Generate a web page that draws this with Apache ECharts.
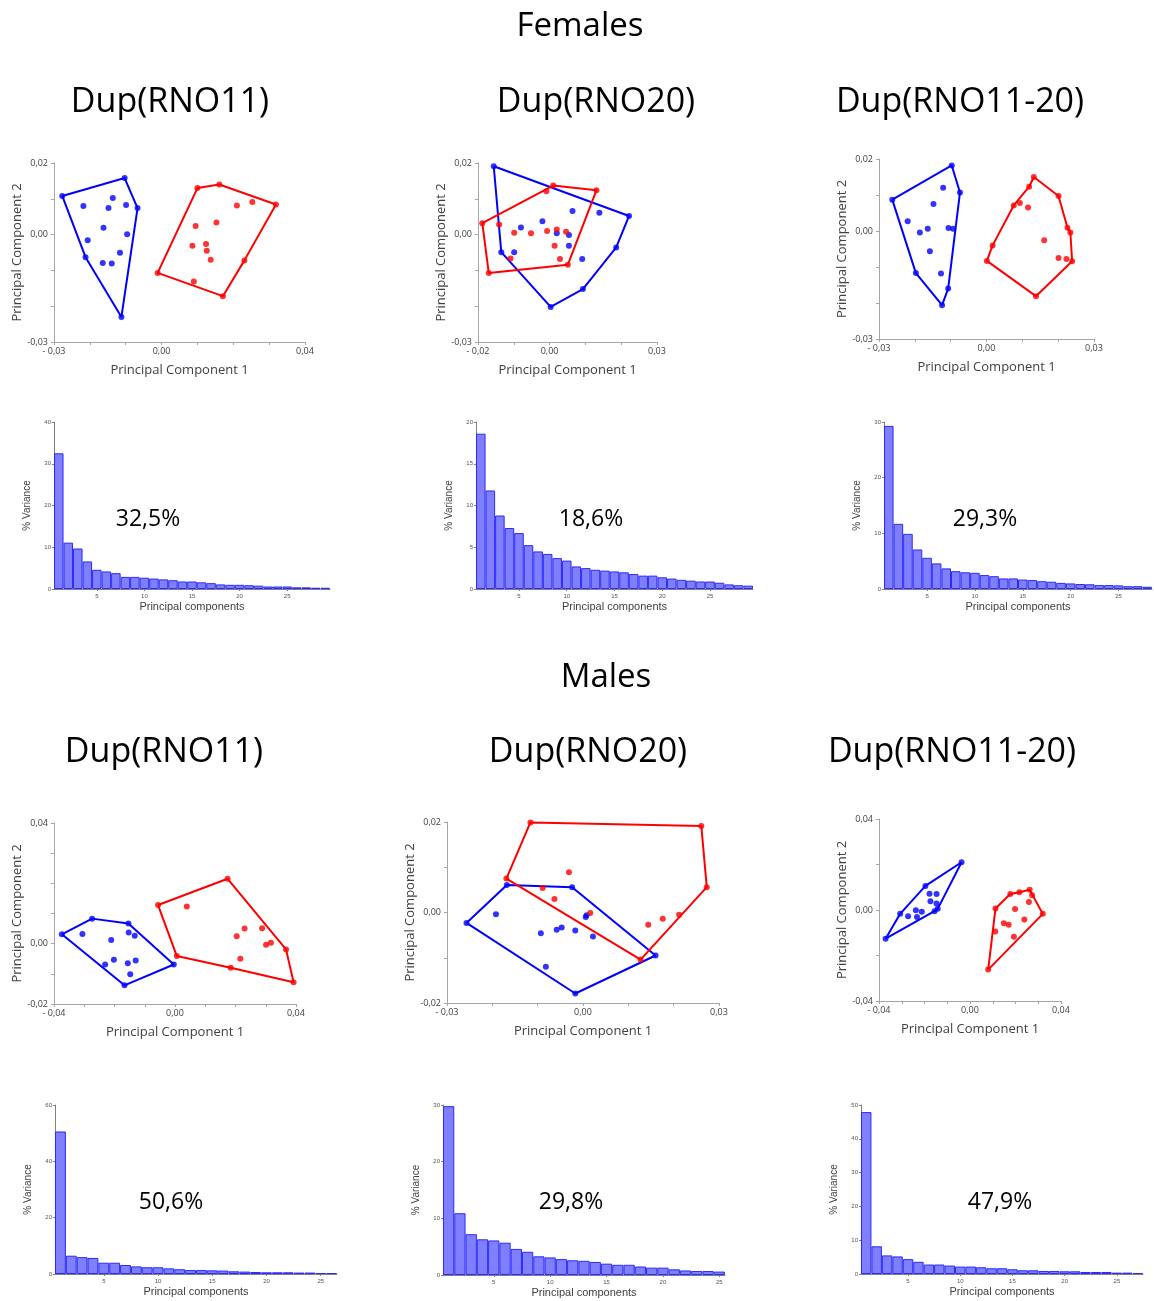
<!DOCTYPE html>
<html>
<head>
<meta charset="utf-8">
<title>PCA Dup(RNO11) / Dup(RNO20) / Dup(RNO11-20)</title>
<script src="https://cdn.jsdelivr.net/npm/echarts@6/dist/echarts.min.js"></script>
<style>
  html, body { margin: 0; padding: 0; background: #fff; }
  #chart { width: 1154px; height: 1301px; }
</style>
</head>
<body>
<div id="chart"></div>
<script>
// ---- PCA scores (PC1, PC2), hull vertices in drawing order + inner points ----
// Females, Dup(RNO11)
const f11BlueHull = [[-0.0277, 0.0108], [-0.0103, 0.0158], [-0.0067, 0.0074], [-0.0112, -0.0230], [-0.0212, -0.0063]];
const f11BlueIn = [[-0.0218, 0.0080], [-0.0136, 0.0102], [-0.0148, 0.0074], [-0.0099, 0.0083], [-0.0162, 0.0019], [-0.0206, -0.0016], [-0.0096, 0.0001], [-0.0116, -0.0051], [-0.0164, -0.0079], [-0.0139, -0.0081]];
const f11RedHull = [[0.0100, 0.0130], [0.0161, 0.0140], [0.0319, 0.0084], [0.0231, -0.0072], [0.0171, -0.0172], [-0.0011, -0.0107]];
const f11RedIn = [[0.0210, 0.0081], [0.0253, 0.0091], [0.0153, 0.0034], [0.0095, 0.0024], [0.0086, -0.0031], [0.0124, -0.0026], [0.0126, -0.0045], [0.0137, -0.0070], [0.0090, -0.0131]];
// Females, Dup(RNO20)
const f20BlueHull = [[-0.0156, 0.0191], [0.0222, 0.0052], [0.0186, -0.0036], [0.0093, -0.0152], [0.0003, -0.0202], [-0.0135, -0.0049]];
const f20BlueIn = [[0.0064, 0.0066], [0.0139, 0.0061], [-0.0020, 0.0037], [-0.0080, 0.0020], [0.0020, 0.0004], [0.0054, -0.0001], [0.0054, -0.0031], [0.0091, -0.0068], [-0.0099, -0.0049]];
const f20RedHull = [[-0.0188, 0.0032], [0.0010, 0.0137], [0.0131, 0.0124], [0.0051, -0.0084], [-0.0170, -0.0107]];
const f20RedIn = [[-0.0009, 0.0121], [-0.0141, 0.0028], [-0.0099, 0.0005], [-0.0052, 0.0004], [-0.0007, 0.0010], [0.0020, 0.0014], [0.0046, 0.0008], [0.0014, -0.0031], [-0.0109, -0.0067], [0.0029, -0.0068]];
// Females, Dup(RNO11-20)
const f1120BlueHull = [[-0.0263, 0.0087], [-0.0097, 0.0182], [-0.0074, 0.0107], [-0.0107, -0.0160], [-0.0124, -0.0206], [-0.0197, -0.0117]];
const f1120BlueIn = [[-0.0121, 0.0120], [-0.0148, 0.0075], [-0.0220, 0.0027], [-0.0186, -0.0004], [-0.0164, 0.0006], [-0.0106, 0.0008], [-0.0093, 0.0006], [-0.0158, -0.0056], [-0.0127, -0.0118]];
const f1120RedHull = [[0.0132, 0.0150], [0.0201, 0.0097], [0.0226, 0.0009], [0.0234, -0.0004], [0.0239, -0.0084], [0.0138, -0.0181], [0.0001, -0.0083], [0.0017, -0.0040], [0.0076, 0.0071], [0.0119, 0.0123]];
const f1120RedIn = [[0.0093, 0.0078], [0.0116, 0.0065], [0.0161, -0.0026], [0.0201, -0.0075], [0.0223, -0.0078]];
// Males, Dup(RNO11)
const m11BlueHull = [[-0.0374, 0.0031], [-0.0274, 0.0083], [-0.0154, 0.0067], [-0.0004, -0.0069], [-0.0167, -0.0138]];
const m11BlueIn = [[-0.0306, 0.0032], [-0.0211, 0.0012], [-0.0153, 0.0037], [-0.0133, 0.0026], [-0.0202, -0.0053], [-0.0231, -0.0069], [-0.0156, -0.0065], [-0.0130, -0.0056], [-0.0148, -0.0101]];
const m11RedHull = [[-0.0056, 0.0128], [0.0174, 0.0215], [0.0367, -0.0019], [0.0392, -0.0128], [0.0184, -0.0080], [0.0006, -0.0041]];
const m11RedIn = [[0.0039, 0.0123], [0.0204, 0.0025], [0.0230, 0.0050], [0.0288, 0.0051], [0.0301, -0.0004], [0.0317, 0.0003], [0.0216, -0.0050]];
// Males, Dup(RNO20)
const m20BlueHull = [[-0.0257, -0.0023], [-0.0168, 0.0061], [-0.0024, 0.0056], [0.0160, -0.0095], [-0.0017, -0.0179]];
const m20BlueIn = [[-0.0192, -0.0004], [-0.0093, -0.0046], [-0.0058, -0.0038], [-0.0047, -0.0033], [-0.0017, -0.0040], [0.0006, -0.0010], [0.0008, -0.0006], [0.0022, -0.0053], [-0.0082, -0.0120]];
const m20RedHull = [[-0.0169, 0.0075], [-0.0116, 0.0199], [0.0261, 0.0191], [0.0273, 0.0056], [0.0127, -0.0104]];
const m20RedIn = [[-0.0031, 0.0089], [-0.0089, 0.0054], [-0.0063, 0.0030], [0.0016, -0.0001], [0.0144, -0.0027], [0.0176, -0.0014], [0.0212, -0.0005]];
// Males, Dup(RNO11-20)
const m1120BlueHull = [[-0.0371, -0.0126], [-0.0307, -0.0017], [-0.0196, 0.0106], [-0.0037, 0.0210], [-0.0142, 0.0005], [-0.0156, -0.0005]];
const m1120BlueIn = [[-0.0178, 0.0071], [-0.0147, 0.0070], [-0.0174, 0.0039], [-0.0147, 0.0029], [-0.0238, -0.0001], [-0.0212, -0.0008], [-0.0272, -0.0027], [-0.0233, -0.0031]];
const m1120RedHull = [[0.0112, 0.0007], [0.0177, 0.0070], [0.0217, 0.0078], [0.0262, 0.0089], [0.0320, -0.0017], [0.0080, -0.0262]];
const m1120RedIn = [[0.0111, -0.0094], [0.0273, 0.0065], [0.0259, 0.0035], [0.0198, 0.0004], [0.0239, -0.0042], [0.0149, -0.0058], [0.0170, -0.0065], [0.0193, -0.0118]];

// ---- % variance per principal component ----
const f11Var = [32.5, 11.1, 9.7, 6.6, 4.6, 4.2, 3.8, 2.9, 2.9, 2.7, 2.5, 2.3, 2.1, 1.8, 1.8, 1.6, 1.4, 1.1, 1.0, 1.0, 0.9, 0.8, 0.6, 0.6, 0.6, 0.4, 0.4, 0.3, 0.3];
const f20Var = [18.6, 11.8, 8.8, 7.3, 6.7, 5.25, 4.5, 4.2, 3.7, 3.4, 2.7, 2.5, 2.3, 2.2, 2.1, 2.0, 1.8, 1.6, 1.6, 1.4, 1.25, 1.1, 1.0, 0.9, 0.9, 0.75, 0.55, 0.45, 0.4];
const f1120Var = [29.3, 11.7, 9.9, 7.1, 5.6, 4.6, 3.7, 3.2, 3.0, 2.9, 2.5, 2.3, 1.9, 1.9, 1.7, 1.6, 1.4, 1.3, 1.1, 1.0, 0.9, 0.85, 0.7, 0.7, 0.65, 0.5, 0.5, 0.4];
const m11Var = [50.6, 6.5, 6.0, 5.7, 4.0, 4.0, 3.2, 2.7, 2.4, 2.4, 2.0, 1.7, 1.4, 1.4, 1.3, 1.2, 0.95, 0.85, 0.7, 0.6, 0.6, 0.6, 0.5, 0.5, 0.35, 0.35];
const m20Var = [29.8, 10.9, 7.2, 6.3, 6.1, 5.7, 4.6, 4.1, 3.3, 3.1, 2.8, 2.6, 2.5, 2.3, 2.0, 1.8, 1.8, 1.5, 1.3, 1.3, 1.0, 0.8, 0.7, 0.7, 0.6];
const m1120Var = [47.9, 8.2, 5.5, 5.2, 4.4, 3.6, 2.8, 2.8, 2.5, 2.2, 2.2, 2.0, 1.7, 1.7, 1.4, 1.1, 1.1, 0.9, 0.9, 0.8, 0.8, 0.6, 0.6, 0.6, 0.4, 0.4, 0.3];
const pc1Labels = ["32,5%", "18,6%", "29,3%", "50,6%", "29,8%", "47,9%"];
const groupTitles = ["Dup(RNO11)", "Dup(RNO20)", "Dup(RNO11-20)"];

// ---- layout ----
const BLUE = "#0000ff";
const RED = "#ff0000";
const AXIS_GREY = "#a6a6a6";
const TEXT_GREY = "#404040";

// box = [left, top, width, height], x/y = [min, max, interval]
const scatterPanels = [
  { box: [54, 163, 251, 179], x: [-0.03, 0.04, 0.01], y: [-0.03, 0.02, 0.01], bh: f11BlueHull, bi: f11BlueIn, rh: f11RedHull, ri: f11RedIn },
  { box: [478, 163, 179, 179], x: [-0.02, 0.03, 0.01], y: [-0.03, 0.02, 0.01], bh: f20BlueHull, bi: f20BlueIn, rh: f20RedHull, ri: f20RedIn },
  { box: [879, 159, 215, 180], x: [-0.03, 0.03, 0.01], y: [-0.03, 0.02, 0.01], bh: f1120BlueHull, bi: f1120BlueIn, rh: f1120RedHull, ri: f1120RedIn },
  { box: [54, 823, 242, 181], x: [-0.04, 0.04, 0.01], y: [-0.02, 0.04, 0.01], bh: m11BlueHull, bi: m11BlueIn, rh: m11RedHull, ri: m11RedIn },
  { box: [447, 822, 272, 181], x: [-0.03, 0.03, 0.01], y: [-0.02, 0.02, 0.01], bh: m20BlueHull, bi: m20BlueIn, rh: m20RedHull, ri: m20RedIn },
  { box: [879, 819, 182, 182], x: [-0.04, 0.04, 0.01], y: [-0.04, 0.04, 0.02], bh: m1120BlueHull, bi: m1120BlueIn, rh: m1120RedHull, ri: m1120RedIn },
];
const barPanels = [
  { box: [54, 422, 276, 167], max: 40, step: 10, data: f11Var, label: [148, 519] },
  { box: [476, 422, 277, 167], max: 20, step: 5, data: f20Var, label: [591, 519] },
  { box: [884, 422, 268, 167], max: 30, step: 10, data: f1120Var, label: [985, 519] },
  { box: [55, 1105, 282, 169], max: 60, step: 20, data: m11Var, label: [171, 1202] },
  { box: [443, 1105, 282, 170], max: 30, step: 10, data: m20Var, label: [571, 1202] },
  { box: [861, 1105, 282, 169], max: 50, step: 10, data: m1120Var, label: [1000, 1202] },
];

// only min, 0 and max get a label, decimal comma
function pcLabel(range, neg) {
  const ends = [Math.round(range[0] * 100), 0, Math.round(range[1] * 100)];
  return function (v) {
    const r = Math.round(v * 100);
    if (ends.indexOf(r) < 0) return "";
    const s = (Math.abs(r) / 100).toFixed(2).replace(".", ",");
    return r < 0 ? neg + s : s;
  };
}

const grid = [], xAxis = [], yAxis = [], series = [];

scatterPanels.forEach(function (p) {
  const i = grid.length;
  grid.push({ left: p.box[0], top: p.box[1], width: p.box[2], height: p.box[3] });
  const common = {
    gridIndex: i,
    type: "value",
    nameLocation: "middle",
    nameTextStyle: { fontFamily: "Open Sans", fontSize: 13, color: TEXT_GREY },
    axisLine: { show: true, onZero: false, lineStyle: { color: AXIS_GREY, width: 1 } },
    axisTick: { show: true, length: 3, lineStyle: { color: AXIS_GREY } },
    splitLine: { show: false },
  };
  xAxis.push(Object.assign({}, common, {
    min: p.x[0], max: p.x[1], interval: p.x[2],
    name: "Principal Component 1", nameGap: 22,
    axisLabel: { fontFamily: "Open Sans", fontSize: 9, color: TEXT_GREY, margin: 5, hideOverlap: false, formatter: pcLabel(p.x, "- ") },
  }));
  yAxis.push(Object.assign({}, common, {
    min: p.y[0], max: p.y[1], interval: p.y[2],
    name: "Principal Component 2", nameGap: 30,
    axisLabel: { fontFamily: "Open Sans", fontSize: 9, color: TEXT_GREY, margin: 6, hideOverlap: false, formatter: pcLabel(p.y, "-") },
  }));
  [[p.bh, p.bi, BLUE], [p.rh, p.ri, RED]].forEach(function (g) {
    series.push({
      type: "line", xAxisIndex: i, yAxisIndex: i,
      data: g[0].concat([g[0][0]]),
      symbol: "none", silent: true, z: 2,
      lineStyle: { color: g[2], width: 2 },
    });
    series.push({
      type: "scatter", xAxisIndex: i, yAxisIndex: i,
      data: g[0].concat(g[1]),
      symbolSize: 6, z: 3,
      itemStyle: { color: g[2] },
    });
  });
});

const every5 = function (idx) { return (idx + 1) % 5 === 0; };
barPanels.forEach(function (p) {
  const i = grid.length;
  grid.push({ left: p.box[0], top: p.box[1], width: p.box[2], height: p.box[3] });
  xAxis.push({
    gridIndex: i, type: "category", boundaryGap: true,
    data: p.data.map(function (_, k) { return String(k + 1); }),
    name: "Principal components", nameLocation: "middle", nameGap: 12,
    nameTextStyle: { fontFamily: "Liberation Sans", fontSize: 11, color: TEXT_GREY },
    axisLine: { show: true, lineStyle: { color: "#808080" } },
    axisTick: { show: true, alignWithLabel: true, interval: every5, length: 2, lineStyle: { color: "#808080" } },
    axisLabel: { interval: every5, fontFamily: "Liberation Sans", fontSize: 6, color: "#555", margin: 4 },
  });
  yAxis.push({
    gridIndex: i, type: "value", min: 0, max: p.max, interval: p.step,
    name: "% Variance", nameLocation: "middle", nameGap: 22,
    nameTextStyle: { fontFamily: "Liberation Sans", fontSize: 10, color: TEXT_GREY },
    axisLine: { show: true, lineStyle: { color: "#808080" } },
    axisTick: { show: true, length: 2, lineStyle: { color: "#808080" } },
    splitLine: { show: false },
    axisLabel: { fontFamily: "Liberation Sans", fontSize: 6, color: "#555", margin: 3 },
  });
  series.push({
    type: "bar", xAxisIndex: i, yAxisIndex: i, data: p.data,
    barCategoryGap: "0%",
    itemStyle: { color: "rgba(0,0,255,0.5)", borderColor: "#2a2aff", borderWidth: 1 },
  });
});

// headings and PC1 percentages
function txt(text, x, y, size) {
  return {
    text: text, left: x, top: y, padding: 0,
    textAlign: "center", textVerticalAlign: "middle",
    textStyle: { fontFamily: "Open Sans", fontSize: size, fontWeight: "normal", color: "#000" },
  };
}
const title = [
  txt("Females", 580, 27, 33),
  txt("Males", 606, 678, 33),
  txt(groupTitles[0], 170, 102, 34), txt(groupTitles[1], 596, 102, 34), txt(groupTitles[2], 960, 102, 34),
  txt(groupTitles[0], 164, 752, 34), txt(groupTitles[1], 588, 752, 34), txt(groupTitles[2], 952, 752, 34),
];
barPanels.forEach(function (p, k) { title.push(txt(pc1Labels[k], p.label[0], p.label[1], 23)); });

const myChart = echarts.init(document.getElementById("chart"));
myChart.setOption({
  animation: false,
  backgroundColor: "#fff",
  title: title,
  grid: grid,
  xAxis: xAxis,
  yAxis: yAxis,
  series: series,
});
</script>
</body>
</html>
